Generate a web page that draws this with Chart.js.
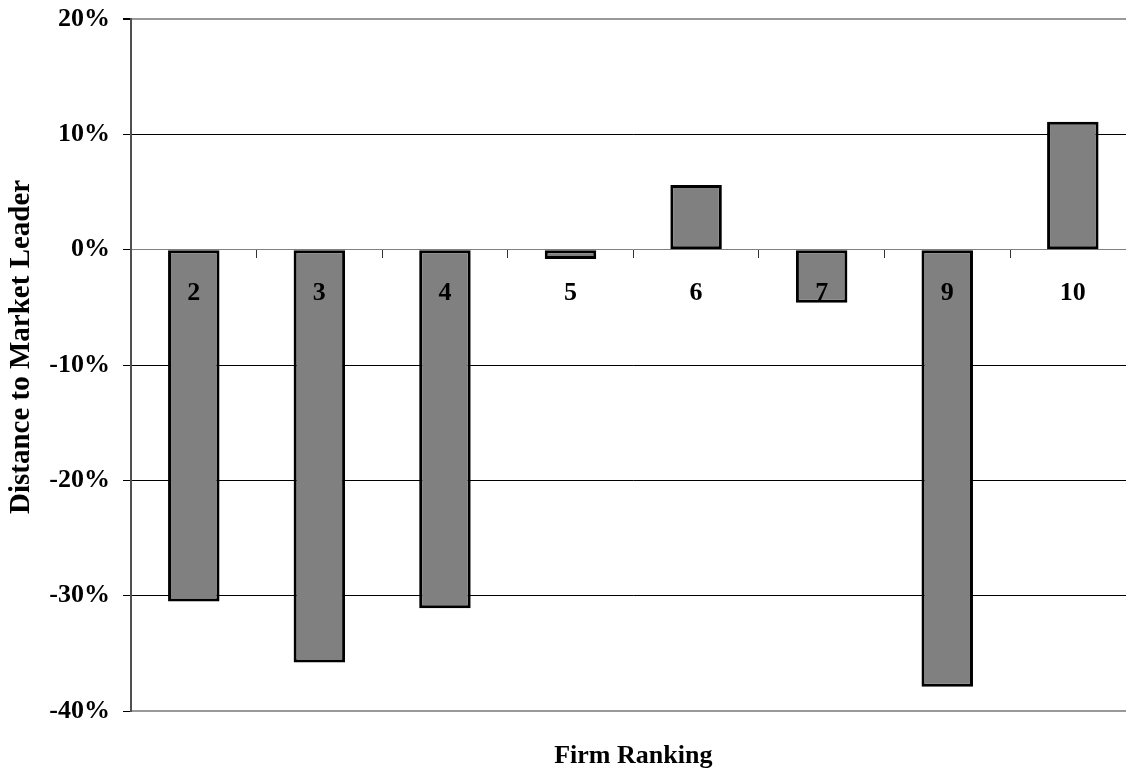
<!DOCTYPE html>
<html><head><meta charset="utf-8">
<script src="https://cdn.jsdelivr.net/npm/chart.js@4.4.1/dist/chart.umd.min.js"></script>
<style>html,body{margin:0;padding:0;background:#fff;overflow:hidden;} #wrap{width:1140px;height:772px;}</style>
</head><body><div id="wrap"><canvas id="c" width="1140" height="772"></canvas></div>
<script>
const categories = ['2', '3', '4', '5', '6', '7', '9', '10'];
const distances = [-30.5, -35.8, -31.1, -0.8, 5.6, -4.6, -37.9, 11.1];
const yTicks = [-40, -30, -20, -10, 0, 10, 20];
const yTitle = 'Distance to Market Leader';
const xTitle = 'Firm Ranking';

const FONT = "'Liberation Serif','Times New Roman',serif";

new Chart(document.getElementById('c'), {
  type: 'bar',
  data: {
    labels: categories,
    datasets: [{
      data: distances,
      backgroundColor: '#808080',
      borderColor: '#000000',
      borderWidth: 3,
      borderSkipped: false,
      barPercentage: 0.41,
      categoryPercentage: 1,
      xAxisID: 'x',
      yAxisID: 'y'
    }]
  },
  options: {
    responsive: false,
    animation: false,
    devicePixelRatio: 1,
    layout: { padding: { top: 19, right: 4.4, bottom: 0, left: 0 } },
    plugins: { legend: { display: false }, tooltip: { enabled: false } },
    scales: {
      x: {
        type: 'category',
        position: 'bottom',
        offset: true,
        grid: { display: false },
        border: { display: true, color: '#999999', width: 2 },
        ticks: { display: false },
        title: {
          display: true, text: xTitle, color: '#000',
          font: { family: FONT, size: 26, weight: 'bold', lineHeight: 1.2 },
          padding: { top: 0, bottom: 0 }
        },
        afterFit: (s) => { s.height = 61; s.paddingLeft = 0; s.paddingRight = 0; }
      },
      xz: {
        type: 'category',
        position: { y: 0 },
        offset: true,
        grid: { offset: true, drawOnChartArea: false, drawTicks: true, tickLength: 8, tickColor: '#333333', lineWidth: 1 },
        border: { display: true, color: '#808080', width: 1 },
        ticks: {
          z: 1,
          color: '#000', padding: 20, maxRotation: 0, autoSkip: false,
          font: { family: FONT, size: 26, weight: 'bold' }
        },
        afterFit: (s) => { s.height = 0; s.paddingLeft = 0; s.paddingRight = 0; }
      },
      y: {
        type: 'linear',
        position: 'left',
        min: -40, max: 20,
        afterBuildTicks: (s) => { s.ticks = yTicks.map(v => ({ value: v })); },
        grid: {
          color: (c) => {
            const v = c.tick && c.tick.value;
            if (v === 20) return '#999999';
            if (v === 0 || v === -40) return 'rgba(0,0,0,0)';
            return '#000000';
          },
          lineWidth: (c) => (c.tick && c.tick.value === 20) ? 2 : 1,
          tickColor: '#000000',
          tickLength: 8,
          drawTicks: true
        },
        border: { display: true, color: '#505050', width: 2 },
        ticks: {
          color: '#000', padding: 13,
          font: { family: FONT, size: 26, weight: 'bold' },
          callback: (v) => v + '%'
        },
        title: {
          display: true, text: '     ' + yTitle, color: '#000',
          font: { family: FONT, size: 29, weight: 'bold', lineHeight: 1.2 },
          padding: { top: 4.6, bottom: 0 }
        },
        afterFit: (s) => { s.width = 131; s.paddingTop = 0; s.paddingBottom = 0; }
      }
    }
  }
});
</script>
</body></html>
